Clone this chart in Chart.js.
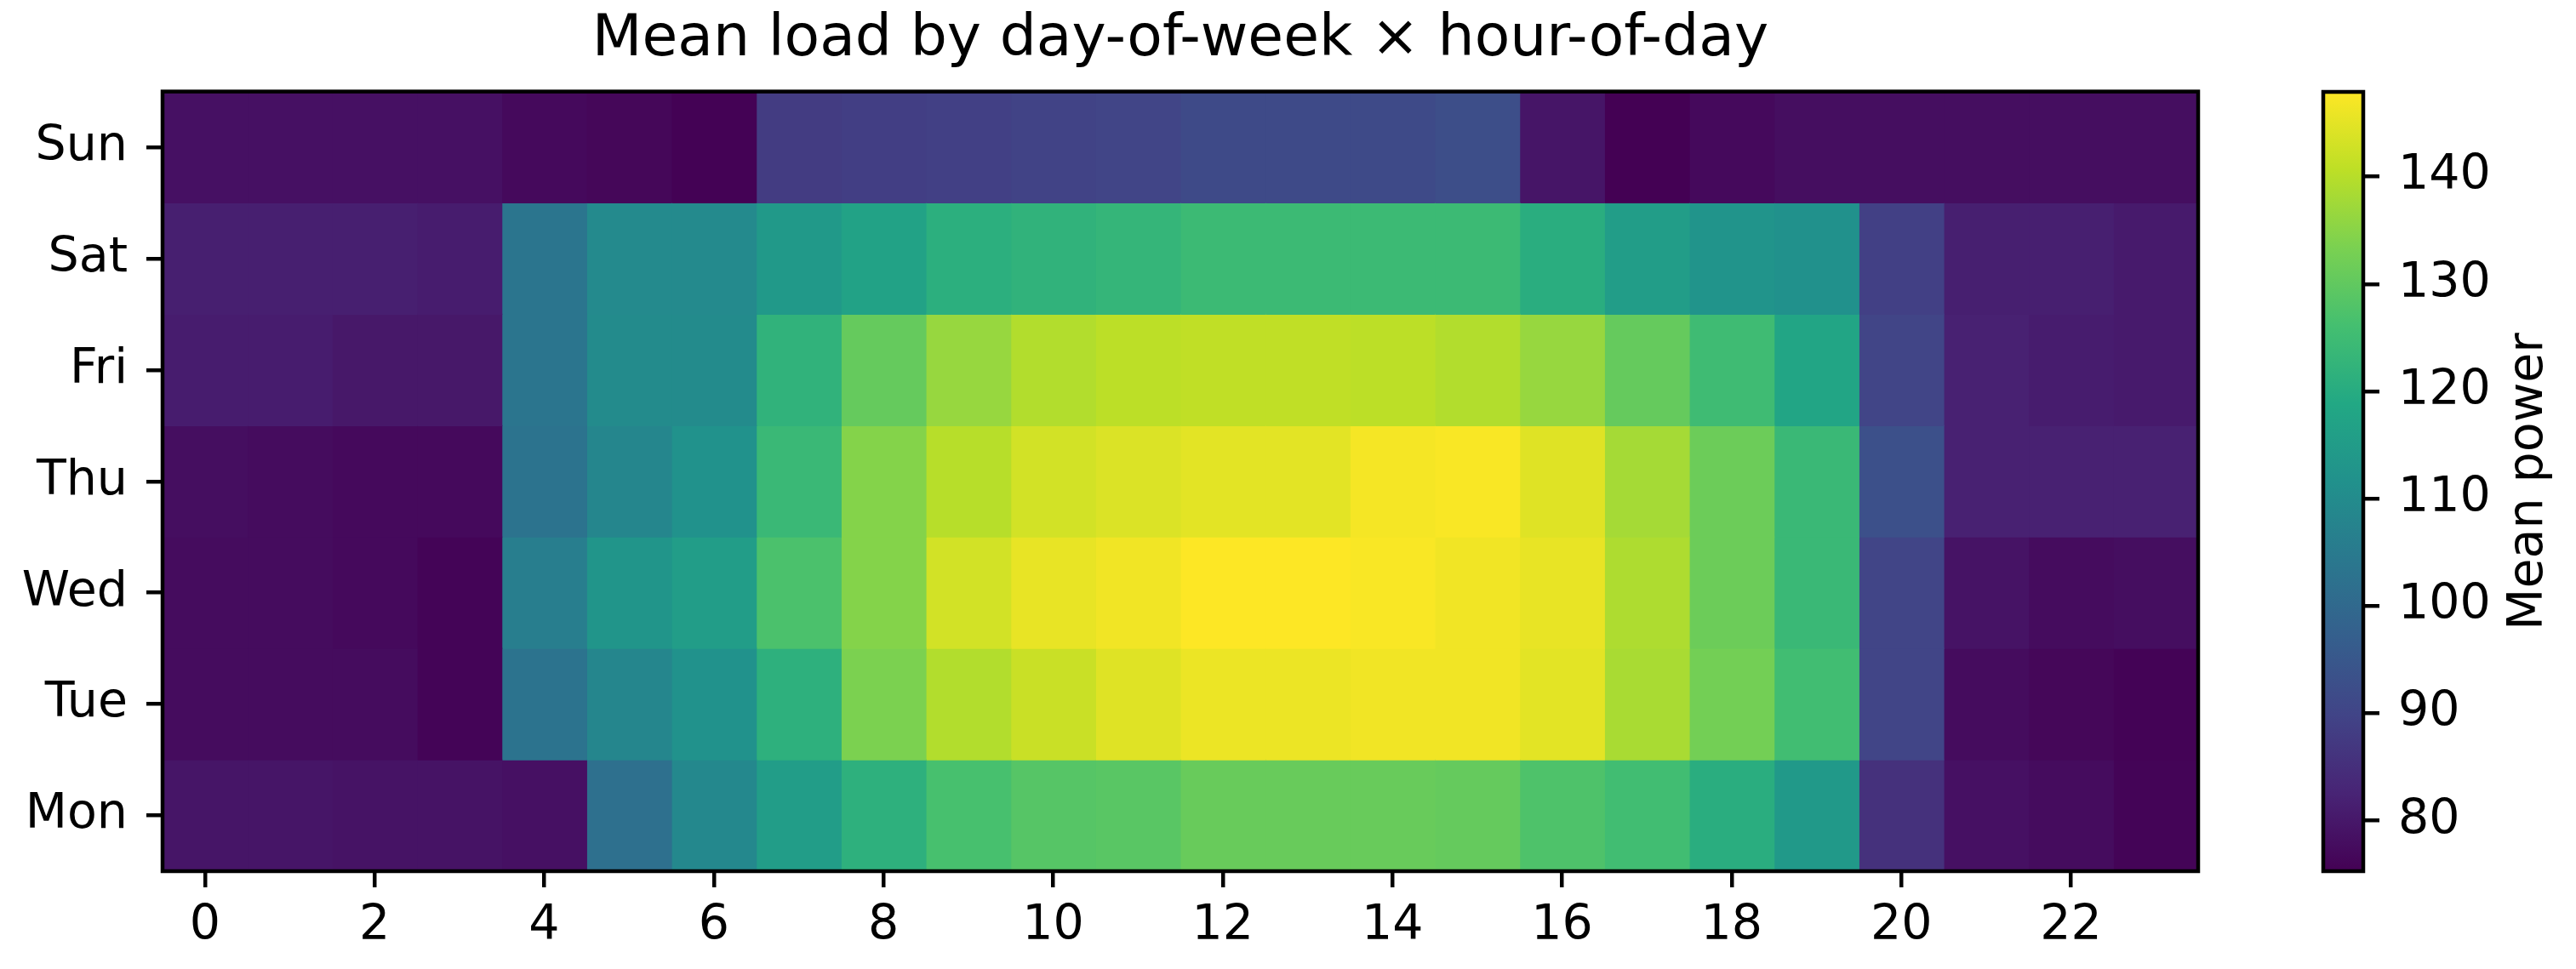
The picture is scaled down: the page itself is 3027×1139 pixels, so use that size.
<!DOCTYPE html>
<html>
<head>
<meta charset="utf-8">
<script src="https://cdn.jsdelivr.net/npm/chart.js@4.4.1/dist/chart.umd.min.js"></script>
<style>
  html, body { margin: 0; padding: 0; background: #fff; }
  #wrap { position: relative; width: 3027px; height: 1139px; }
  #heat { position: absolute; left: 0; top: 0; width: 2640px; height: 1139px; }
  #cbar { position: absolute; left: 2640px; top: 0; width: 387px; height: 1139px; }
</style>
</head>
<body>
<div id="wrap">
  <div id="heat"><canvas id="heatChart"></canvas></div>
  <div id="cbar"><canvas id="cbarChart"></canvas></div>
</div>
<script>
// rows of the heatmap, hour 0..23
const days = ['Mon', 'Tue', 'Wed', 'Thu', 'Fri', 'Sat', 'Sun'];
const hours = [0, 1, 2, 3, 4, 5, 6, 7, 8, 9, 10, 11, 12, 13, 14, 15, 16, 17, 18, 19, 20, 21, 22, 23];
const hourTicks = [0, 2, 4, 6, 8, 10, 12, 14, 16, 18, 20, 22];
const powerTicks = [80, 90, 100, 110, 120, 130, 140];

const mon = [79.5, 79.5, 79, 79, 78.5, 102, 109, 115.5, 121.5, 126.5, 128.5, 129, 131, 131, 131, 130.5, 127.5, 125.5, 120.5, 114, 85.5, 78.5, 77.5, 76];
const tue = [77.5, 77.5, 77.5, 76, 103, 108.5, 112, 121.5, 133.5, 139.5, 142, 144.5, 146, 146, 146.5, 146.5, 145, 138.5, 132.5, 125.5, 90, 77.5, 76.5, 75.8];
const wed = [77.5, 77.5, 77, 76, 106, 113, 115.5, 127, 134.5, 143, 145.5, 146.5, 147.9, 147.9, 147.5, 146.5, 145.5, 139, 131.5, 124, 90, 79, 77.5, 78];
const thu = [78, 77.5, 77, 77, 103, 108.5, 112, 124, 134.5, 140, 143, 144, 145, 145, 147, 147.5, 144.5, 138, 131.5, 124, 93, 82, 82, 82];
const fri = [81, 81, 80, 80, 103.5, 110, 110, 122, 130.5, 136.5, 139.5, 140.5, 141, 141, 140.5, 139.5, 136.5, 130.5, 125, 118, 90, 82, 81, 80.5];
const sat = [81.5, 81.5, 81.5, 81, 103.5, 109.5, 109.5, 114, 117, 121, 122, 123, 124.5, 124.5, 124.5, 124.5, 120.5, 115.5, 112.5, 111.5, 89, 81.5, 81.5, 80.5];
const sun = [78.5, 78.5, 78.5, 78.5, 77, 76.5, 75.6, 88, 88.5, 89, 89.5, 90, 91.5, 91.5, 91.5, 92.5, 79.5, 75.3, 77, 78, 78, 78, 78, 78];

const rows = [mon, tue, wed, thu, fri, sat, sun];

const vmin = Math.min(...rows.flat());
const vmax = Math.max(...rows.flat());

// viridis, 11 stops
const VIRIDIS = ['#440154', '#482475', '#414487', '#355f8d', '#2a788e', '#21918c',
                 '#22a884', '#44bf70', '#7ad151', '#bddf26', '#fde725'];
function hex2rgb(h) {
  return [parseInt(h.slice(1, 3), 16), parseInt(h.slice(3, 5), 16), parseInt(h.slice(5, 7), 16)];
}
const VIR_RGB = VIRIDIS.map(hex2rgb);
function viridis(t) {
  t = Math.max(0, Math.min(1, t));
  const p = t * (VIR_RGB.length - 1);
  const i = Math.min(Math.floor(p), VIR_RGB.length - 2);
  const f = p - i;
  const a = VIR_RGB[i], b = VIR_RGB[i + 1];
  const c = a.map((v, k) => Math.round(v + (b[k] - v) * f));
  return `rgb(${c[0]},${c[1]},${c[2]})`;
}
const norm = v => (v - vmin) / (vmax - vmin);

Chart.defaults.font.family = "'DejaVu Sans', sans-serif";
Chart.defaults.color = '#000';

const frame = {
  id: 'frame',
  afterDraw(chart) {
    const a = chart.chartArea;
    const ctx = chart.ctx;
    ctx.save();
    ctx.strokeStyle = '#000';
    ctx.lineWidth = 4.5;
    ctx.strokeRect(a.left, a.top, a.right - a.left, a.bottom - a.top);
    ctx.restore();
  }
};

const tickGrid = {
  drawOnChartArea: false,
  drawTicks: true,
  tickLength: 19,
  lineWidth: 4.5,
  color: '#000'
};

const heatSets = hours.map(h => ({
  label: String(h),
  data: days.map(() => [h - 0.5, h + 0.5]),
  backgroundColor: rows.map(r => viridis(norm(r[h]))),
  borderWidth: 0,
  inflateAmount: 0.6,
  barPercentage: 1,
  categoryPercentage: 1,
  grouped: false
}));

new Chart(document.getElementById('heatChart'), {
  type: 'bar',
  data: { labels: days, datasets: heatSets },
  options: {
    indexAxis: 'y',
    responsive: true,
    maintainAspectRatio: false,
    animation: false,
    layout: { padding: { left: 0, right: 57, top: 0, bottom: 0 } },
    plugins: {
      legend: { display: false },
      tooltip: { enabled: false },
      title: {
        display: true,
        text: 'Mean load by day-of-week × hour-of-day',
        fullSize: false,
        color: '#000',
        font: { size: 68, weight: 'normal' },
        padding: { top: 7, bottom: 19 }
      }
    },
    scales: {
      x: {
        type: 'linear',
        min: -0.5,
        max: 23.5,
        afterBuildTicks: s => { s.ticks = hourTicks.map(v => ({ value: v })); },
        afterFit: s => { s.height = 115; },
        grid: tickGrid,
        border: { display: false },
        ticks: { font: { size: 57 }, padding: 12, maxRotation: 0, autoSkip: false }
      },
      y: {
        type: 'category',
        reverse: true,
        offset: true,
        afterFit: s => { s.width = 191; },
        grid: Object.assign({ offset: false }, tickGrid),
        border: { display: false },
        ticks: { font: { size: 57 }, padding: 22 }
      }
    }
  },
  plugins: [frame]
});

const cbarLabel = {
  id: 'cbarLabel',
  afterDraw(chart) {
    const ctx = chart.ctx;
    const a = chart.chartArea;
    ctx.save();
    ctx.translate(332, (a.top + a.bottom) / 2);
    ctx.rotate(-Math.PI / 2);
    ctx.textAlign = 'center';
    ctx.textBaseline = 'middle';
    ctx.fillStyle = '#000';
    ctx.font = "57px 'DejaVu Sans'";
    ctx.fillText('Mean power', 0, 0);
    ctx.restore();
  }
};

new Chart(document.getElementById('cbarChart'), {
  type: 'bar',
  data: {
    labels: [''],
    datasets: [{
      data: [[vmin, vmax]],
      backgroundColor: ctx => {
        const a = ctx.chart.chartArea;
        if (!a) return '#888';
        const g = ctx.chart.ctx.createLinearGradient(0, a.bottom, 0, a.top);
        VIRIDIS.forEach((c, i) => g.addColorStop(i / (VIRIDIS.length - 1), c));
        return g;
      },
      borderWidth: 0,
      barPercentage: 1,
      categoryPercentage: 1
    }]
  },
  options: {
    responsive: true,
    maintainAspectRatio: false,
    animation: false,
    layout: { padding: { left: 90, right: 0, top: 108, bottom: 115 } },
    plugins: { legend: { display: false }, tooltip: { enabled: false } },
    scales: {
      x: { display: false },
      y: {
        position: 'right',
        min: vmin,
        max: vmax,
        afterBuildTicks: s => { s.ticks = powerTicks.map(v => ({ value: v })); },
        afterFit: s => { s.width = 250; },
        grid: tickGrid,
        border: { display: false },
        ticks: { font: { size: 57 }, padding: 22 }
      }
    }
  },
  plugins: [frame, cbarLabel]
});
</script>
</body>
</html>
